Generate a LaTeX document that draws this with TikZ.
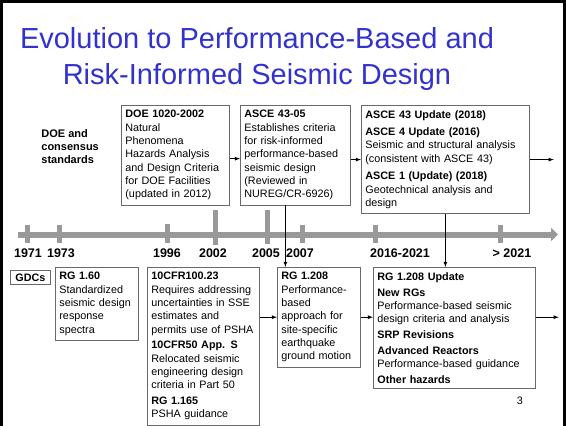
\documentclass[tikz,border=0pt]{standalone}
\usepackage{fontspec}
\setmainfont{Liberation Sans}
\usepackage{xcolor}
\usetikzlibrary{arrows.meta}
\definecolor{TitleBlue}{RGB}{51, 51, 204}
\definecolor{BarGray}{RGB}{153, 153, 153}
\definecolor{BoxGray}{RGB}{105, 105, 105}
\newcommand{\hd}[1]{\textbf{#1}}
\tikzset{
  evbox/.style = {draw = BoxGray, line width = 0.8pt, anchor = north west, align = left,
                  inner xsep = 4pt, inner ysep = 5pt, font = \fontsize{10.8}{13.3}\selectfont},
  yearlbl/.style = {anchor = base, inner sep = 0pt, font = \fontsize{12.5}{15}\selectfont\bfseries},
  titletext/.style = {anchor = base, inner sep = 0pt, text = TitleBlue, font = \fontsize{29}{35}\selectfont},
  tickmark/.style = {BarGray, line width = 5pt},
}

\begin{document}
\begin{tikzpicture}[x = 1pt, y = -1pt, line width = 0.8pt]
            %背景与边框
            \useasboundingbox[fill = white] (0, 0) rectangle (566, 426);
            \clip (0, 0) rectangle (566, 426);
            \draw[line width = 3pt] (1.5, 426) -- (1.5, 1.5) -- (564.5, 1.5) -- (564.5, 426);
            %标题
            \node[titletext] (title1) at (257, 48) {Evolution to Performance-Based and};
            \node[titletext] (title2) at (257, 84) {Risk-Informed Seismic Design};
            %时间轴
            \draw[BarGray, line width = 6pt, -{Triangle[length = 7pt, width = 13pt]}] (18, 234.5) -- (558, 234.5);
            \foreach \x/\ya/\yb in {27/225/243, 59/225/243, 167/224/243, 215/210/245,
                                    267/210/244, 302/225/243, 375/225/243, 500/225/243}
                \draw[tickmark] (\x, \ya) -- (\x, \yb);
            \foreach \x/\t [count = \i] in {28/1971, 61/1973, 167/1996, 213/2002, 266/2005,
                                            300/2007, 400/2016-2021, 512/{> 2021}}
                \node[yearlbl] (yr\i) at (\x, 257) {\t};
            %上方方框
            \node[anchor = north west, inner sep = 0pt, align = left,
                  font = \fontsize{11}{13}\selectfont\bfseries] (doestd) at (41, 129)
                {DOE and\\ consensus\\ standards};
            \node[evbox, text width = 100pt] (doe) at (121, 105)
                {\hd{DOE 1020-2002}\\ Natural\\ Phenomena\\ Hazards Analysis\\
                 and Design Criteria\\ for DOE Facilities\\ (updated in 2012)};
            \node[evbox, text width = 102pt] (asce) at (240, 105)
                {\hd{ASCE 43-05}\\ Establishes criteria\\ for risk-informed\\ performance-based\\
                 seismic design\\ (Reviewed in\\ NUREG/CR-6926)\par\vspace{-4pt}};
            \node[evbox, text width = 160pt] (asceupd) at (361, 105)
                {\hd{ASCE 43 Update (2018)}\\[4pt] \hd{ASCE 4 Update (2016)}\\
                 Seismic and structural analysis\\ (consistent with ASCE 43)\\[4.5pt]
                 \hd{ASCE 1 (Update) (2018)}\\ Geotechnical analysis and\\ design};
            %下方方框
            \node[draw = BoxGray, anchor = north west, inner sep = 0pt, minimum width = 40pt,
                  minimum height = 14pt, font = \fontsize{10.8}{13}\selectfont\bfseries] (gdc) at (10, 270) {GDCs};
            \node[evbox, text width = 75pt] (rgsix) at (55, 267)
                {\hd{RG 1.60}\\ Standardized\\ seismic design\\ response\\ spectra};
            \node[evbox, text width = 104pt] (cfr) at (147, 267)
                {\hd{10CFR100.23}\\ Requires addressing\\ uncertainties in SSE\\ estimates and\\
                 permits use of PSHA\\[2.5pt] \hd{10CFR50 App. S}\\ Relocated seismic\\
                 engineering design\\ criteria in Part 50\\[2.5pt] \hd{RG 1.165}\\ PSHA guidance\par\vspace{8pt}};
            \node[evbox, text width = 75pt] (rgb) at (277, 267)
                {\hd{RG 1.208}\\ Performance-\\ based\\ approach for\\ site-specific\\
                 earthquake\\ ground motion};
            \node[evbox, text width = 154pt] (rgupd) at (373, 267)
                {\hd{RG 1.208 Update}\\[2.5pt] \hd{New RGs}\\ Performance-based seismic\\
                 design criteria and analysis\\[2.5pt] \hd{SRP Revisions}\\[2.5pt]
                 \hd{Advanced Reactors}\\ Performance-based guidance\\[2.5pt] \hd{Other hazards}};
            \node[font = \fontsize{10.8}{13}\selectfont] (pagenum) at (520, 401) {3};
            %箭头
            \coordinate (outA) at ([xshift = 24pt]asceupd.east);
            \coordinate (outB) at ([xshift = 23pt]rgb.east -| rgupd.east);
            \draw[-latex] ([yshift = -3.5pt]doe.east) -- ([yshift = -3.5pt]doe.east -| asce.west);
            \draw[-latex] (asceupd.west -| asce.east) -- (asceupd.west);
            \draw[-latex] (asceupd.east) -- (outA);
            \draw[-latex] ([xshift = -10pt]asce.south) -- ([xshift = -10pt]asce.south |- rgb.north);
            \draw[-latex] (asceupd.south) -- (asceupd.south |- rgupd.north);
            \draw[-latex] (rgb.west -| cfr.east) -- (rgb.west);
            \draw[-latex] (rgb.east) -- (rgb.east -| rgupd.west);
            \draw[-latex] (rgb.east -| rgupd.east) -- (outB);
        \end{tikzpicture}
\end{document}
